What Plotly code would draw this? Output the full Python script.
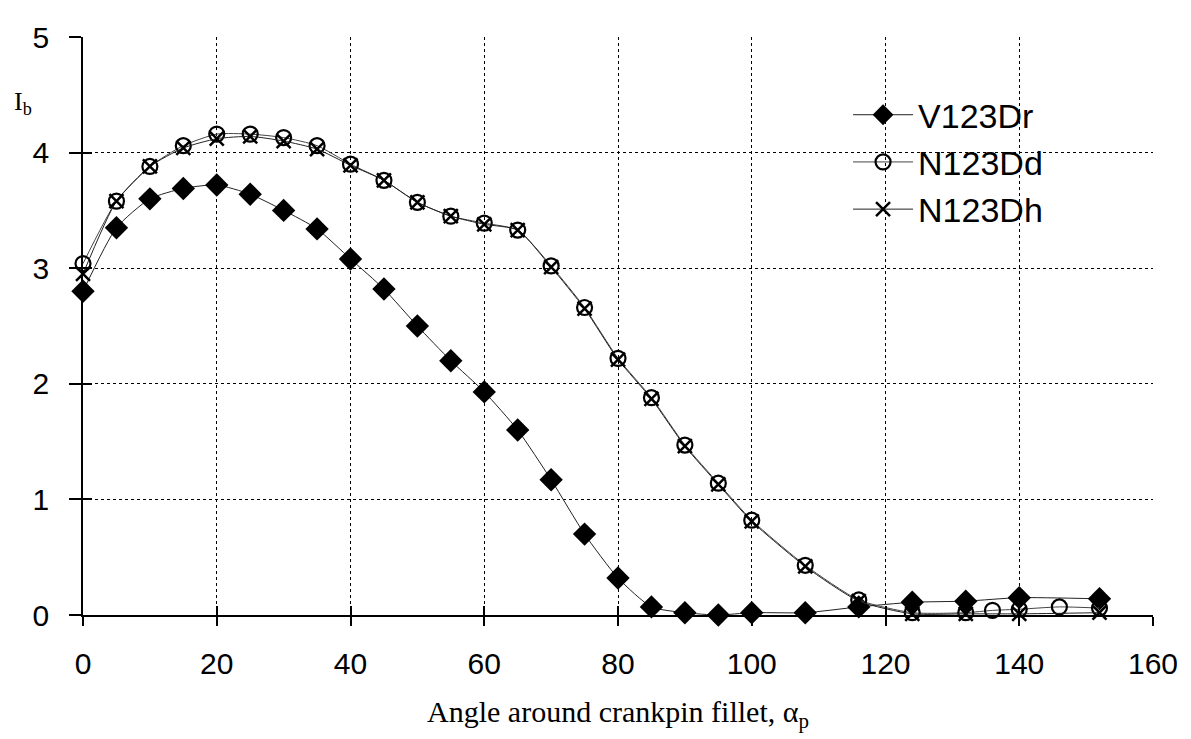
import plotly.graph_objects as go

# Data
x_vr = [0, 5, 10, 15, 20, 25, 30, 35, 40, 45, 50, 55, 60, 65, 70, 75, 80, 85, 90, 95, 100, 108, 116, 124, 132, 140, 152]
y_vr = [2.80, 3.35, 3.60, 3.69, 3.72, 3.64, 3.50, 3.34, 3.08, 2.82, 2.50, 2.20, 1.93, 1.60, 1.17, 0.70, 0.32, 0.07, 0.02, 0.00, 0.02, 0.02, 0.07, 0.11, 0.12, 0.15, 0.14]

x_dd = [0, 5, 10, 15, 20, 25, 30, 35, 40, 45, 50, 55, 60, 65, 70, 75, 80, 85, 90, 95, 100, 108, 116, 124, 132, 136, 140, 146, 152]
y_dd = [3.04, 3.58, 3.88, 4.06, 4.16, 4.16, 4.13, 4.06, 3.90, 3.76, 3.57, 3.45, 3.39, 3.33, 3.02, 2.66, 2.22, 1.88, 1.47, 1.14, 0.82, 0.43, 0.13, 0.02, 0.02, 0.04, 0.05, 0.07, 0.06]

x_dh = [0, 5, 10, 15, 20, 25, 30, 35, 40, 45, 50, 55, 60, 65, 70, 75, 80, 85, 90, 95, 100, 108, 116, 124, 132, 140, 152]
y_dh = [2.95, 3.58, 3.88, 4.04, 4.12, 4.14, 4.10, 4.03, 3.89, 3.76, 3.57, 3.45, 3.38, 3.33, 3.01, 2.65, 2.21, 1.87, 1.46, 1.13, 0.81, 0.42, 0.12, 0.01, 0.01, 0.01, 0.02]

x_ticks = [0, 20, 40, 60, 80, 100, 120, 140, 160]
y_ticks = [0, 1, 2, 3, 4, 5]

fig = go.Figure()
fig.add_trace(go.Scatter(
    x=x_vr, y=y_vr, name="V123Dr", mode="lines+markers",
    line=dict(color="#222", width=1, shape="spline", smoothing=0.6),
    marker=dict(symbol="diamond", size=18, color="black"),
    cliponaxis=False))
fig.add_trace(go.Scatter(
    x=x_dd, y=y_dd, name="N123Dd", mode="lines+markers",
    line=dict(color="#444", width=1, shape="spline", smoothing=0.6),
    marker=dict(symbol="circle-open", size=15, color="black", line=dict(width=2.2, color="black")),
    cliponaxis=False))
fig.add_trace(go.Scatter(
    x=x_dh, y=y_dh, name="N123Dh", mode="lines+markers",
    line=dict(color="#222", width=1, shape="spline", smoothing=0.6),
    marker=dict(symbol="x-thin", size=14, color="black", line=dict(width=2.5, color="black")),
    cliponaxis=False))

tickfont = dict(family="Liberation Sans, Arial", size=30, color="black")

fig.update_layout(
    width=1183, height=731,
    margin=dict(l=75, r=38, t=18, b=124),
    paper_bgcolor="white", plot_bgcolor="white",
    showlegend=True,
    legend=dict(x=0.715, y=0.915, xanchor="left", yanchor="top",
                font=dict(family="Liberation Sans, Arial", size=34, color="black"),
                bgcolor="rgba(0,0,0,0)", itemwidth=60),
    xaxis=dict(range=[0, 160], tickvals=x_ticks, ticktext=[str(v) for v in x_ticks],
               showgrid=True, gridcolor="black", griddash="dot", gridwidth=1,
               showline=True, linecolor="black", linewidth=1.5,
               ticks="outside", ticklen=9, tickcolor="black", tickwidth=1.5,
               ticklabelstandoff=12,
               tickfont=tickfont, zeroline=False,
               title=dict(text="Angle around crankpin fillet, α<sub>p</sub>",
                          font=dict(family="Liberation Serif, Times New Roman", size=30, color="black"),
                          standoff=22)),
    yaxis=dict(range=[0, 5], tickvals=y_ticks, ticktext=[str(v) for v in y_ticks],
               showgrid=True, gridcolor="black", griddash="dot", gridwidth=1,
               showline=True, linecolor="black", linewidth=1.5,
               ticks="outside", ticklen=12, tickcolor="black", tickwidth=1.5,
               ticklabelstandoff=14,
               tickfont=tickfont, zeroline=False),
    xaxis2=dict(range=[0, 160], tickvals=x_ticks, overlaying="x", side="bottom",
                showticklabels=False, showgrid=False, ticks="inside", ticklen=9,
                tickcolor="black", tickwidth=1.5, showline=False, zeroline=False),
    yaxis2=dict(range=[0, 5], tickvals=y_ticks, overlaying="y", side="left",
                showticklabels=False, showgrid=False, ticks="inside", ticklen=9,
                tickcolor="black", tickwidth=1.5, showline=False, zeroline=False),
)

# empty trace to activate the secondary axes that carry the inner tick marks
fig.add_trace(go.Scatter(x=[None], y=[None], xaxis="x2", yaxis="y2", showlegend=False, hoverinfo="skip"))

fig.add_annotation(text="I<sub>b</sub>", xref="paper", yref="paper", x=-0.056, y=0.885,
                   xanchor="center", yanchor="middle", showarrow=False,
                   font=dict(family="Liberation Serif, Times New Roman", size=26, color="black"))

fig.write_html("out.html")
